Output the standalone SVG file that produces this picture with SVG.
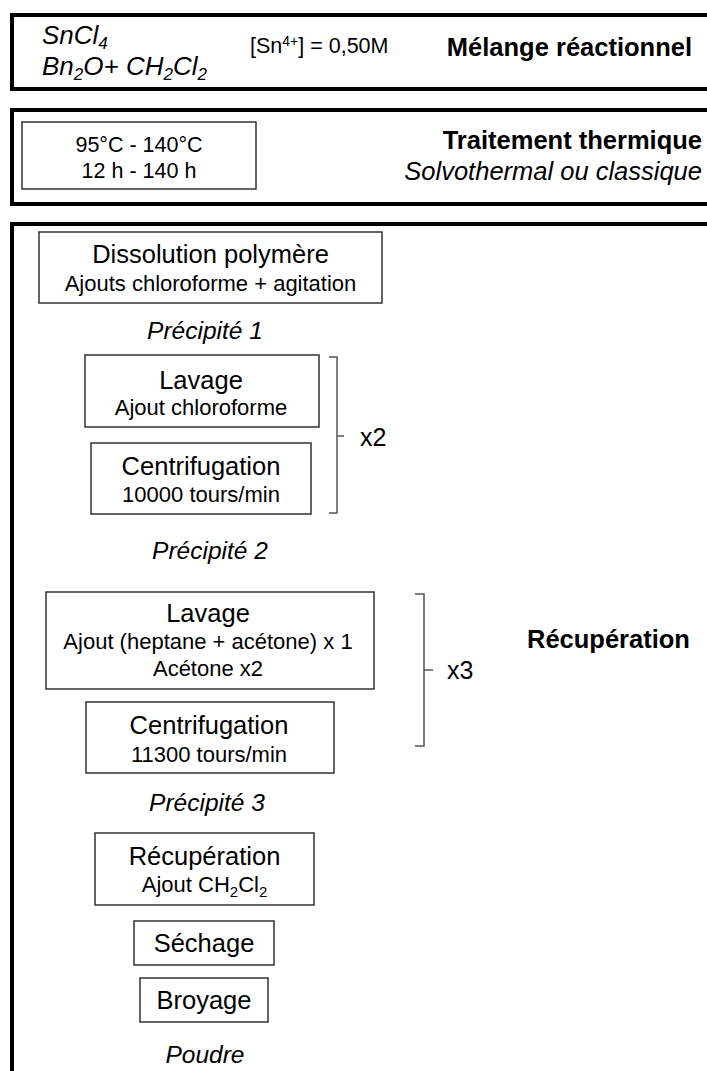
<svg xmlns="http://www.w3.org/2000/svg" width="707" height="1071" viewBox="0 0 707 1071">
<style>
text{font-family:"Liberation Sans",Arial,sans-serif;fill:#000}
.outer{fill:none;stroke:#000;stroke-width:4}
.box{fill:#fff;stroke:#333;stroke-width:1.5}
.t{font-size:25.5px;text-anchor:middle}
.s{font-size:22px;text-anchor:middle}
.it{font-size:24.5px;font-style:italic;text-anchor:middle}
.hd{font-size:25.5px;font-weight:bold}
.br{fill:none;stroke:#555;stroke-width:1.5}
</style>
<rect width="707" height="1071" fill="#fff"/>
<g id="melange">
<rect class="outer" x="12" y="15" width="720" height="74"/>
<text x="42" y="44" font-size="26" font-style="italic">SnCl<tspan font-size="17" dy="5">4</tspan></text>
<text x="42" y="75" font-size="26" font-style="italic">Bn<tspan font-size="17" dy="5">2</tspan><tspan dy="-5">O+ CH</tspan><tspan font-size="17" dy="5">2</tspan><tspan dy="-5">Cl</tspan><tspan font-size="17" dy="5">2</tspan></text>
<text x="250" y="53" font-size="21.5">[Sn<tspan font-size="14" dy="-7">4+</tspan><tspan dy="7">] = 0,50M</tspan></text>
<text class="hd" x="692" y="56" text-anchor="end">Mélange réactionnel</text>
</g>
<g id="traitement">
<rect class="outer" x="12" y="110" width="720" height="94"/>
<rect class="box" x="22" y="122" width="234" height="67"/>
<text x="139" y="152" font-size="21.5" text-anchor="middle">95°C - 140°C</text>
<text x="139" y="178" font-size="21.5" text-anchor="middle">12 h - 140 h</text>
<text class="hd" x="702" y="149" text-anchor="end">Traitement thermique</text>
<text x="702" y="180" font-size="25.5" font-style="italic" text-anchor="end">Solvothermal ou classique</text>
</g>
<g id="recuperation-section">
<rect class="outer" x="12" y="224" width="720" height="900"/>
<text class="hd" x="527" y="648">Récupération</text>
</g>
<g id="dissolution">
<rect class="box" x="39" y="232" width="343" height="71"/>
<text class="t" x="210.5" y="263">Dissolution polymère</text>
<text class="s" x="210.5" y="291">Ajouts chloroforme + agitation</text>
</g>
<g id="precipite1"><text class="it" x="205" y="339">Précipité 1</text></g>
<g id="lavage1">
<rect class="box" x="85" y="355" width="234" height="72"/>
<text class="t" x="201" y="389">Lavage</text>
<text class="s" x="201" y="415">Ajout chloroforme</text>
</g>
<g id="centrif1">
<rect class="box" x="91" y="443" width="220" height="71"/>
<text class="t" x="201" y="475">Centrifugation</text>
<text class="s" x="201" y="502">10000 tours/min</text>
</g>
<g id="precipite2"><text class="it" x="210" y="559">Précipité 2</text></g>
<g id="lavage2">
<rect class="box" x="46" y="592" width="328" height="97"/>
<text class="t" x="208" y="622">Lavage</text>
<text class="s" x="208" y="649">Ajout (heptane + acétone) x 1</text>
<text class="s" x="208" y="676">Acétone x2</text>
</g>
<g id="centrif2">
<rect class="box" x="86" y="702" width="248" height="71"/>
<text class="t" x="209" y="734">Centrifugation</text>
<text class="s" x="209" y="762">11300 tours/min</text>
</g>
<g id="precipite3"><text class="it" x="207" y="811">Précipité 3</text></g>
<g id="recup">
<rect class="box" x="95" y="833" width="219" height="72"/>
<text class="t" x="204.5" y="865">Récupération</text>
<text class="s" x="204.5" y="892">Ajout CH<tspan font-size="15" dy="5">2</tspan><tspan dy="-5">Cl</tspan><tspan font-size="15" dy="5">2</tspan></text>
</g>
<g id="sechage">
<rect class="box" x="134" y="921" width="140" height="44"/>
<text class="t" x="204" y="952">Séchage</text>
</g>
<g id="broyage">
<rect class="box" x="140" y="978" width="128" height="44"/>
<text class="t" x="204" y="1009">Broyage</text>
</g>
<g id="poudre"><text class="it" x="205" y="1063">Poudre</text></g>
<g id="connectors">
<path class="br" d="M329,357 H337 V513 H329 M337,436 H344"/>
<text x="360" y="446" font-size="25">x2</text>
<path class="br" d="M415,594 H424 V746 H415 M424,670 H433"/>
<text x="447" y="679" font-size="25">x3</text>
</g>
</svg>
